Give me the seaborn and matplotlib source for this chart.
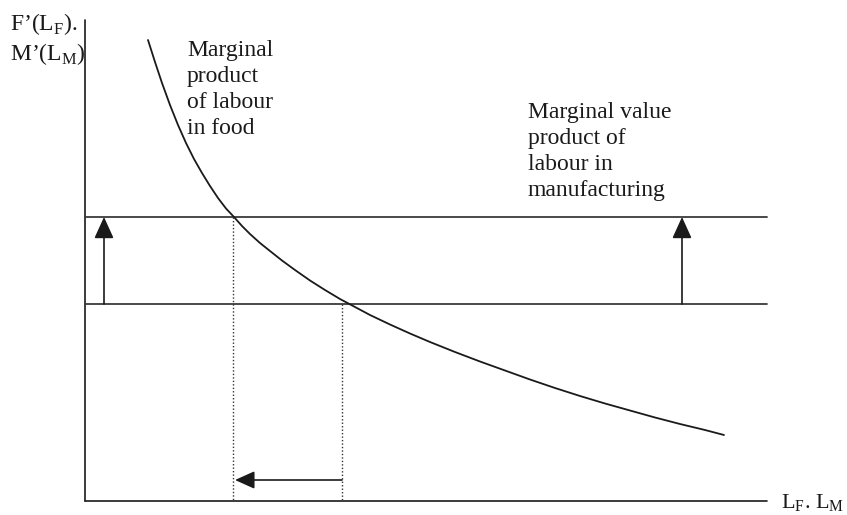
import matplotlib
matplotlib.use("Agg")
import matplotlib.pyplot as plt
import seaborn as sns
import pandas as pd

# --- data (drawing units: x to the right, y downward as on the page) ---
curve_x = [148, 155, 162, 170, 178, 186, 194, 202, 210, 218, 226, 234, 242, 250,
           260, 270, 282, 295, 310, 325, 340, 355, 370, 390, 410, 430, 455, 480,
           505, 530, 555, 580, 605, 630, 655, 680, 705, 724]
curve_y = [40, 62, 83, 105, 125, 143, 159, 173, 186, 198, 208.5, 217, 226, 234,
           243, 251, 260.5, 270, 280.5, 290, 299, 307, 315, 324.5, 333.5, 342, 352, 361.5,
           370.5, 379.5, 388, 396, 403.5, 410.5, 417.5, 424, 430, 435]

axis_origin = (85, 501)
axis_top = 20
axis_right = 767

wage_high = 217
wage_low = 304
labour_high = 233
labour_low = 342

arrow_up_x = [104, 682]
arrow_left_y = 480

label_food = "Marginal\nproduct\nof labour\nin food"
label_manuf = "Marginal value\nproduct of\nlabour in\nmanufacturing"
label_y1 = "F\u2019(L$_\\mathregular{F}$)."
label_y2 = "M\u2019(L$_\\mathregular{M}$)"
label_x = "L$_\\mathregular{F}$. L$_\\mathregular{M}$"

sns.set_theme(style="white")
plt.rcParams['font.family'] = ['Liberation Serif', 'DejaVu Serif']
plt.rcParams['mathtext.fontset'] = 'custom'
plt.rcParams['mathtext.rm'] = 'Liberation Serif'

fig = plt.figure(figsize=(8.47, 5.15), dpi=100)
ax = fig.add_axes([0, 0, 1, 1])
ax.set_xlim(0, 847)
ax.set_ylim(515, 0)
ax.axis("off")

ink = "#1a1a1a"

# axes
ox, oy = axis_origin
ax.plot([ox, ox], [axis_top, oy], color=ink, lw=1.2)
ax.plot([ox, axis_right], [oy, oy], color=ink, lw=1.2)

# horizontal wage lines
for w in (wage_high, wage_low):
    ax.plot([ox, axis_right], [w, w], color="#3a3a3a", lw=1.3)

# curve
df = pd.DataFrame({"x": curve_x, "y": curve_y})
sns.lineplot(data=df, x="x", y="y", ax=ax, color=ink, lw=1.3, sort=False)

# dotted verticals
ax.plot([labour_high, labour_high], [wage_high, oy], color="#333333", lw=1.0, ls=(0, (1, 1.5)))
ax.plot([labour_low, labour_low], [wage_low, oy], color="#333333", lw=1.0, ls=(0, (1, 1.5)))

# up arrows
for axx in arrow_up_x:
    ax.annotate("", xy=(axx, wage_high), xytext=(axx, wage_low),
                arrowprops=dict(arrowstyle="-|>,head_length=1.1,head_width=0.5",
                                color=ink, lw=1.2, shrinkA=0, shrinkB=0))
# left arrow
ax.annotate("", xy=(labour_high + 2, arrow_left_y), xytext=(labour_low, arrow_left_y),
            arrowprops=dict(arrowstyle="-|>,head_length=1.0,head_width=0.45",
                            color=ink, lw=1.2, shrinkA=0, shrinkB=0))

fs = 17
ax.text(10, 30, label_y1, fontsize=fs, color=ink, va="baseline", ha="left")
ax.text(10, 60, label_y2, fontsize=fs, color=ink, va="baseline", ha="left")
ax.text(187, 40, label_food, fontsize=fs, color=ink, va="top", ha="left", linespacing=1.32)
ax.text(528, 102, label_manuf, fontsize=fs, color=ink, va="top", ha="left", linespacing=1.32)
ax.text(781, 508, label_x, fontsize=16, color=ink, va="baseline", ha="left")

fig.savefig("out.png", dpi=100)
